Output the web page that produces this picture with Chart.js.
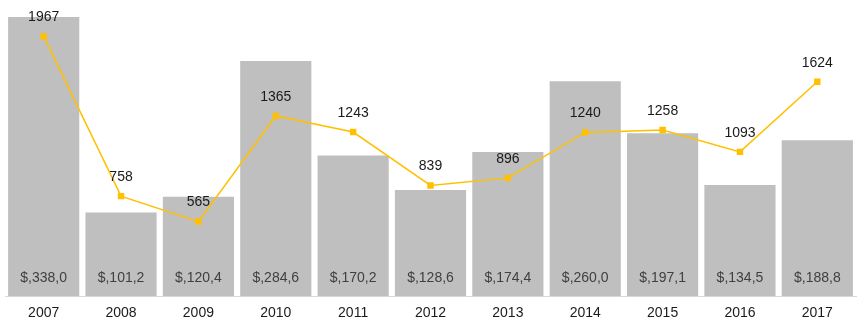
<!DOCTYPE html>
<html>
<head>
<meta charset="utf-8">
<script src="https://cdn.jsdelivr.net/npm/chart.js@4"></script>
<style>
  html, body { margin: 0; padding: 0; background: #fff; }
  #wrap { width: 861px; height: 325px; }
</style>
</head>
<body>
<div id="wrap"><canvas id="chart"></canvas></div>
<script>
// Years, revenue bars and count line
const years = ['2007', '2008', '2009', '2010', '2011', '2012', '2013', '2014', '2015', '2016', '2017'];
const revenue = [338.0, 101.2, 120.4, 284.6, 170.2, 128.6, 174.4, 260.0, 197.1, 134.5, 188.8];
const counts = [1967, 758, 565, 1365, 1243, 839, 896, 1240, 1258, 1093, 1624];

const font = '"Liberation Sans", Arial, sans-serif';

function money(v) {
  return '$,' + v.toFixed(1).replace('.', ',');
}

// Draws the value labels: bar values near the base, line values above points
const valueLabels = {
  id: 'valueLabels',
  afterDatasetsDraw(chart) {
    const ctx = chart.ctx;
    ctx.save();
    ctx.font = '14px ' + font;
    ctx.textAlign = 'center';
    ctx.textBaseline = 'middle';

    const bars = chart.getDatasetMeta(1).data;
    ctx.fillStyle = '#404040';
    bars.forEach((bar, i) => {
      ctx.fillText(money(revenue[i]), bar.x, bar.base - 18);
    });

    const points = chart.getDatasetMeta(0).data;
    ctx.fillStyle = '#1a1a1a';
    points.forEach((pt, i) => {
      ctx.fillText(String(counts[i]), pt.x, pt.y - 19);
    });
    ctx.restore();
  }
};

new Chart(document.getElementById('chart'), {
  data: {
    labels: years,
    datasets: [
      {
        type: 'line',
        data: counts,
        yAxisID: 'y2',
        borderColor: '#FFC000',
        backgroundColor: '#FFC000',
        borderWidth: 1.5,
        pointStyle: 'rect',
        pointRadius: 3.5,
        pointHoverRadius: 3.5,
        tension: 0,
        order: 0
      },
      {
        type: 'bar',
        data: revenue,
        yAxisID: 'y',
        backgroundColor: '#BFBFBF',
        categoryPercentage: 0.92,
        barPercentage: 1.0,
        order: 1
      }
    ]
  },
  options: {
    responsive: true,
    maintainAspectRatio: false,
    animation: false,
    layout: { padding: { left: 4, right: 2, top: 7, bottom: -6 } },
    plugins: {
      legend: { display: false },
      tooltip: { enabled: false }
    },
    scales: {
      x: {
        grid: { display: false, drawTicks: false },
        border: { color: '#D9D9D9', width: 1 },
        ticks: { color: '#1a1a1a', font: { family: font, size: 14 }, padding: 9 }
      },
      y: {
        display: false,
        min: 0,
        max: 350
      },
      y2: {
        display: false,
        min: 0,
        max: 2190
      }
    }
  },
  plugins: [valueLabels]
});
</script>
</body>
</html>
